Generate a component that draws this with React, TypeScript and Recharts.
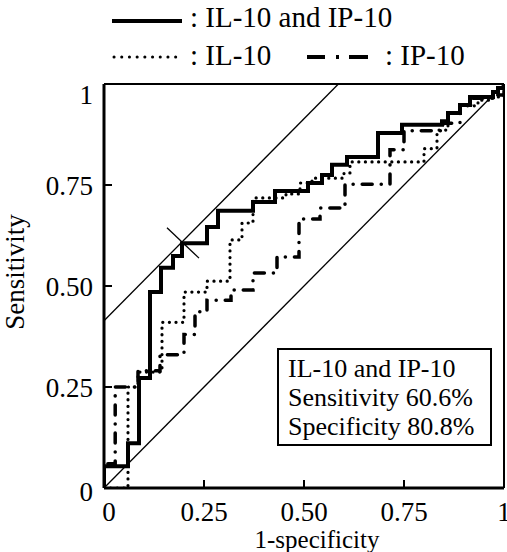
import React from "react"
import { LineChart, Line, XAxis, YAxis, ReferenceLine } from "recharts"

// ROC curves. Each (fpr, sens) pair is the top of a riser,
// drawn with stepAfter (go right first, then up).
const comboFpr = [0, 0, 0.06, 0.0875, 0.115, 0.1425, 0.1725, 0.195, 0.2575, 0.285, 0.3725, 0.4275, 0.51, 0.545, 0.57, 0.6075, 0.685, 0.745, 0.845, 0.86, 0.89, 0.915, 0.9725, 0.985, 1]
const comboSens = [0, 0.054, 0.111, 0.272, 0.485, 0.545, 0.574, 0.606, 0.646, 0.686, 0.708, 0.735, 0.755, 0.775, 0.8, 0.819, 0.879, 0.899, 0.908, 0.928, 0.948, 0.968, 0.98, 0.99, 1]

const il10Fpr = [0, 0.06, 0.085, 0.145, 0.2, 0.2575, 0.315, 0.345, 0.3725, 0.455, 0.49, 0.52, 0.6, 0.615, 0.8, 0.8325, 0.86, 0.89, 0.935, 0.9725, 1]
const il10Sens = [0, 0.25, 0.287, 0.41, 0.485, 0.512, 0.614, 0.656, 0.718, 0.728, 0.755, 0.767, 0.78, 0.807, 0.84, 0.886, 0.928, 0.946, 0.96, 0.968, 1]

const ip10Fpr = [0, 0, 0.028, 0.085, 0.14, 0.2, 0.2275, 0.2575, 0.3175, 0.3725, 0.4325, 0.4875, 0.54, 0.6025, 0.715, 0.75, 0.8475, 0.89, 0.92, 0.9725, 1]
const ip10Sens = [0, 0.06, 0.25, 0.29, 0.33, 0.38, 0.436, 0.465, 0.49, 0.532, 0.572, 0.666, 0.693, 0.752, 0.837, 0.884, 0.903, 0.948, 0.965, 0.973, 1]

// chance line, tangent (Youden) line and the cut-off mark
const chanceLine = [{ x: 0, y: 0 }, { x: 1, y: 1 }]
const youdenIntercept = 0.414
const cutMark = [{ x: 0.1575, y: 0.644 }, { x: 0.2375, y: 0.569 }]

const ticks = [0, 0.25, 0.5, 0.75, 1]
const tickLabels = ["0", "0.25", "0.50", "0.75", "1"]

const boxLines = ["IL-10 and IP-10", "Sensitivity 60.6%", "Specificity 80.8%"]

const toPoints = (xs: number[], ys: number[]) => xs.map((x, i) => ({ x, y: ys[i] }))

const comboData = toPoints(comboFpr, comboSens)
const il10Data = toPoints(il10Fpr, il10Sens)
const ip10Data = toPoints(ip10Fpr, ip10Sens)

const FONT = "'Liberation Serif', 'Times New Roman', serif"
const label = (v: number) => tickLabels[ticks.indexOf(v)] ?? String(v)
const inner = (v: number) => v > 0 && v < 1

const X_MARGIN = 14
const Y_MARGIN = 11
const TICK_LEN = 8

// bottom ticks: inward tick mark + label
function XTick(props: any) {
  const { x, y, payload } = props
  const v = payload.value
  const axisY = y - X_MARGIN
  return (
    <g>
      {inner(v) && <line x1={x} y1={axisY} x2={x} y2={axisY - TICK_LEN} stroke="#000" strokeWidth={2} />}
      <text x={x + (v === 0 ? 5 : 0)} y={y} dy="0.71em" textAnchor="middle"
        fontSize={27} fontFamily={FONT} fill="#000">{label(v)}</text>
    </g>
  )
}

function YTick(props: any) {
  const { x, y, payload } = props
  const v = payload.value
  const axisX = x + Y_MARGIN
  const shift = v === 1 ? 10 : v === 0 ? 3 : 0
  return (
    <g>
      {inner(v) && <line x1={axisX} y1={y} x2={axisX + TICK_LEN} y2={y} stroke="#000" strokeWidth={2} />}
      <text x={x} y={y + shift} dy="0.355em" textAnchor="end"
        fontSize={27} fontFamily={FONT} fill="#000">{label(v)}</text>
    </g>
  )
}

function Header() {
  return (
    <g fontFamily={FONT} fill="#000">
      <line x1={112} y1={21} x2={182} y2={21} stroke="#000" strokeWidth={4} />
      <text x={190} y={27} fontSize={29}>: IL-10 and IP-10</text>
      <line x1={114} y1={57} x2={176} y2={57} stroke="#000" strokeWidth={3}
        strokeDasharray="0.1 7.6" strokeLinecap="round" />
      <text x={190} y={65} fontSize={29}>: IL-10</text>
      <line x1={307} y1={57} x2={368} y2={57} stroke="#000" strokeWidth={4}
        strokeDasharray="18 11 3 10 20" />
      <text x={385} y={65} fontSize={29}>: IP-10</text>
    </g>
  )
}

function InfoBox() {
  return (
    <g fontFamily={FONT}>
      <rect x={278} y={349} width={213} height={96} fill="#fff" stroke="#000" strokeWidth={2} />
      {boxLines.map((t, i) => (
        <text key={t} x={288} y={377 + i * 29} fontSize={26} fill="#000">{t}</text>
      ))}
    </g>
  )
}

export default function App() {
  return (
    <div style={{ position: "absolute", left: 0, top: 0, width: 507, height: 552, background: "#fff" }}>
      <LineChart width={507} height={552} margin={{ top: 84, right: 3, bottom: 0, left: 0 }}>
        <XAxis
          type="number"
          dataKey="x"
          domain={[0, 1]}
          ticks={ticks}
          interval={0}
          height={64}
          axisLine={{ stroke: "#000", strokeWidth: 3 }}
          tickLine={false}
          tickSize={0}
          tickMargin={X_MARGIN}
          tick={<XTick />}
          allowDataOverflow
        />
        <YAxis
          type="number"
          domain={[0, 1]}
          ticks={ticks}
          interval={0}
          width={104}
          axisLine={{ stroke: "#000", strokeWidth: 3 }}
          tickLine={false}
          tickSize={0}
          tickMargin={Y_MARGIN}
          tick={<YTick />}
          allowDataOverflow
        />
        <ReferenceLine y={1} stroke="#000" strokeWidth={2} />
        <ReferenceLine x={1} stroke="#000" strokeWidth={2} />
        <ReferenceLine segment={chanceLine} stroke="#000" strokeWidth={1.3} />
        <ReferenceLine
          segment={[{ x: 0, y: youdenIntercept }, { x: 1 - youdenIntercept, y: 1 }]}
          stroke="#000"
          strokeWidth={1.3}
        />
        <ReferenceLine segment={cutMark} stroke="#000" strokeWidth={1.3} />
        <Line data={il10Data} dataKey="y" type="stepAfter" stroke="#000" strokeWidth={3.2}
          strokeDasharray="0.1 6.5" strokeLinecap="round" dot={false} activeDot={false} isAnimationActive={false} />
        <Line data={ip10Data} dataKey="y" type="stepAfter" stroke="#000" strokeWidth={3.5}
          strokeDasharray="10 9 0.1 9" strokeLinecap="round" dot={false} activeDot={false} isAnimationActive={false} />
        <Line data={comboData} dataKey="y" type="stepAfter" stroke="#000" strokeWidth={4}
          dot={false} activeDot={false} isAnimationActive={false} />
        <InfoBox />
        <Header />
        <text x={317} y={548} textAnchor="middle" fontSize={25} fontFamily={FONT} fill="#000">1-specificity</text>
        <text x={24} y={272} textAnchor="middle" fontSize={27} fontFamily={FONT} fill="#000"
          transform="rotate(-90 24 272)">Sensitivity</text>
      </LineChart>
    </div>
  )
}
